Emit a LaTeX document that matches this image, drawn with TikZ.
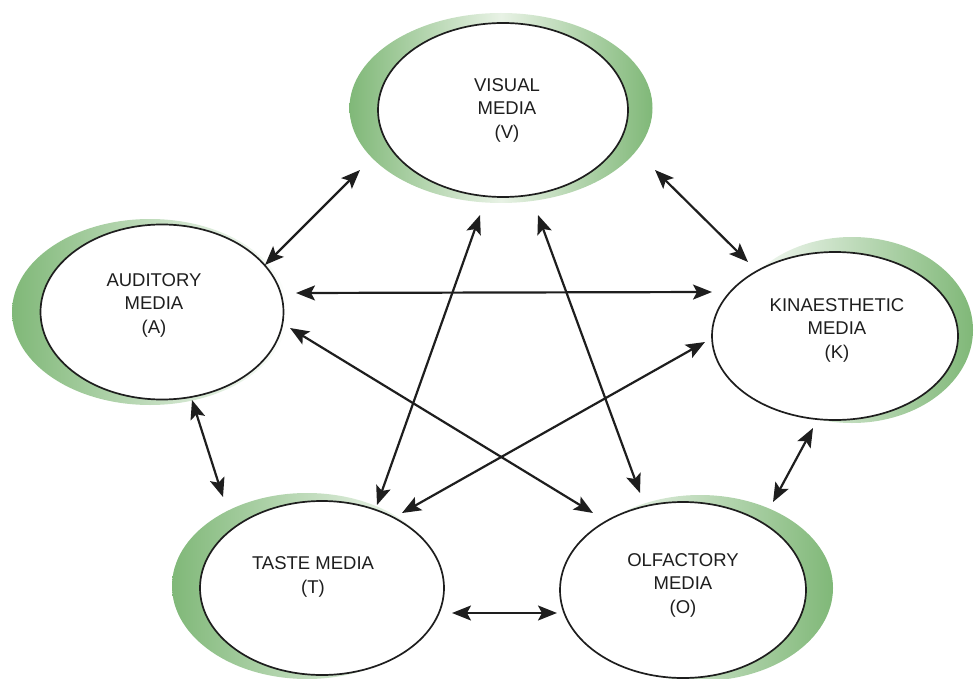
\documentclass[tikz,border=0pt]{standalone}
\usepackage{fontspec}
\setmainfont{Liberation Sans}
\usetikzlibrary{arrows.meta,shapes.geometric,calc}
\definecolor{gdark}{RGB}{128,184,120}
\definecolor{glight}{RGB}{232,242,229}
\definecolor{ink}{RGB}{30,30,30}
\begin{document}
\begin{tikzpicture}[x=1pt,y=-1pt,
  media/.style={ellipse, draw=ink, line width=1.7pt, fill=white, inner sep=0pt},
  halo/.style={ellipse, inner sep=0pt},
  caption/.style={align=center, font=\fontsize{18.5}{23.5}\selectfont, text=ink, inner sep=0pt},
  link/.style={draw=ink, line width=2.2pt,
    {Stealth[length=19pt,width=15pt,inset=4pt]}-{Stealth[length=19pt,width=15pt,inset=4pt]}}]
\useasboundingbox (0,0) rectangle (974,679);

% green crescents behind each medium
\node[halo, minimum width=303pt, minimum height=190pt,
      left color=gdark, right color=gdark, middle color=glight] (Vh) at (501,108) {};
\node[halo, minimum width=276pt, minimum height=186pt,
      left color=gdark, right color=white] (Ah) at (150,312) {};
\node[halo, minimum width=242pt, minimum height=186pt,
      left color=white, right color=gdark] (Kh) at (852,330) {};
\node[halo, minimum width=270pt, minimum height=186pt,
      left color=gdark, right color=white] (Th) at (307,586) {};
\node[halo, minimum width=266pt, minimum height=186pt,
      left color=white, right color=gdark] (Oh) at (700,588) {};

% the five media
\node[media, minimum width=250pt, minimum height=174pt] (V) at (503,110) {};
\node[media, minimum width=243pt, minimum height=175pt] (A) at (162,312) {};
\node[media, minimum width=246pt, minimum height=168pt] (K) at (835,336) {};
\node[media, minimum width=244pt, minimum height=174pt] (T) at (322,588) {};
\node[media, minimum width=246pt, minimum height=176pt] (O) at (683,590) {};

\node[caption] (Vt) at (507,110) {VISUAL\\MEDIA\\(V)};
\node[caption] (At) at (154,305) {AUDITORY\\MEDIA\\(A)};
\node[caption] (Kt) at (837,330) {KINAESTHETIC\\MEDIA\\(K)};
\node[caption] (Tt) at (313,577) {TASTE MEDIA\\(T)};
\node[caption] (Ot) at (683,585) {OLFACTORY\\MEDIA\\(O)};

% two-way links between every pair
\draw[link] ($(V)+(-143,60)$) -- ($(A)+(103,-47)$);
\draw[link] ($(A)+(134,-19)$) -- ($(K)+(-123,-44)$);
\draw[link] ($(V)+(152,60)$) -- ($(K)+(-87,-74)$);
\draw[link] ($(A)+(128,16)$) -- ($(O)+(-90,-77)$);
\draw[link] ($(K)+(-130,6)$) -- ($(T)+(80,-75)$);
\draw[link] ($(V)+(-23,105)$) -- ($(T)+(55,-83)$);
\draw[link] ($(V)+(35,105)$) -- ($(O)+(-43,-97)$);
\draw[link] ($(A)+(30,88)$) -- ($(T)+(-99,-91)$);
\draw[link] ($(K)+(-22,92)$) -- ($(O)+(90,-88)$);
\draw[link] ($(T)+(130,25)$) -- ($(O)+(-126,23)$);
\end{tikzpicture}
\end{document}
